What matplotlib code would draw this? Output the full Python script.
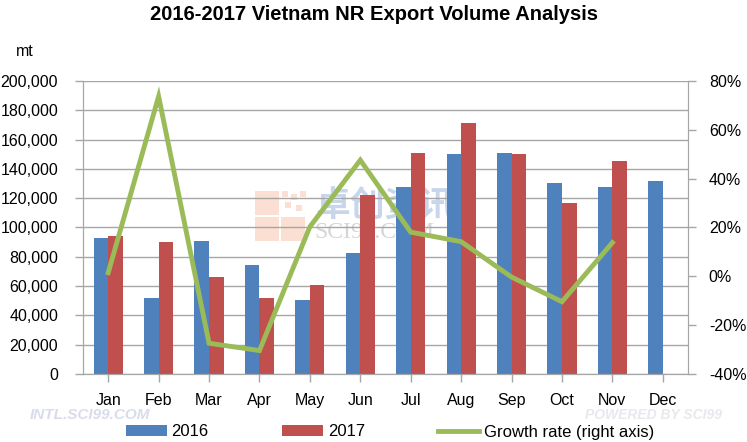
import matplotlib
matplotlib.use("Agg")
import matplotlib.pyplot as plt
from matplotlib.patches import Rectangle
from matplotlib.ticker import FuncFormatter, MultipleLocator
import numpy as np

months = ["Jan", "Feb", "Mar", "Apr", "May", "Jun", "Jul", "Aug", "Sep", "Oct", "Nov", "Dec"]
vol_2016 = [92800, 51900, 90800, 74400, 50500, 82800, 127600, 150200, 150900, 130400, 127600, 131700]
vol_2017 = [94200, 90100, 66200, 51900, 60800, 122200, 150900, 171300, 150200, 116700, 145400]
growth = [1.5, 73.7, -27.4, -30.4, 20.3, 47.6, 18.1, 14.2, -0.3, -10.4, 13.8]

plt.rcParams['font.family'] = ['Liberation Sans', 'Noto Sans CJK SC', 'DejaVu Sans']

fig = plt.figure(figsize=(7.47, 4.42), dpi=100)
ax = fig.add_axes([83/747, 1-374/442, (688-83)/747, (374-81)/442])
ax.patch.set_visible(False)
ax2 = ax.twinx()

x = np.arange(len(months))
w = 0.29
blue = '#4F81BD'
red = '#C0504D'
green = '#9BBB59'
grid = '#A6A6A6'

ax.bar(x - w/2, vol_2016, w, color=blue, label='2016', zorder=2)
ax.bar(np.arange(len(vol_2017)) + w/2, vol_2017, w, color=red, label='2017', zorder=2)
ax2.plot(np.arange(len(growth)), growth, color=green, lw=3.5, label='Growth rate (right axis)', zorder=3, solid_joinstyle='miter')

ax.set_xlim(-0.5, 11.5)
ax.set_ylim(0, 200000)
ax.yaxis.set_major_locator(MultipleLocator(20000))
ax.yaxis.set_major_formatter(FuncFormatter(lambda v, p: f"{int(v):,}"))
ax2.set_ylim(-40, 80)
ax2.yaxis.set_major_locator(MultipleLocator(20))
ax2.yaxis.set_major_formatter(FuncFormatter(lambda v, p: f"{int(v)}%"))

ax.set_xticks(x)
ax.set_xticklabels(months)
ax.grid(axis='y', color=grid, lw=1, zorder=0)
ax.set_axisbelow(True)

for a in (ax, ax2):
    for s in ['top']:
        a.spines[s].set_visible(False)
    for s in ['left', 'right', 'bottom']:
        a.spines[s].set_color(grid)
    a.tick_params(colors=grid, labelcolor='black', labelsize=11.5, length=6, width=1)
ax.tick_params(axis='x', pad=8)
ax.tick_params(axis='y', pad=12)
ax2.tick_params(axis='y', pad=9)

fig.text(0.5, 1-14/442, "2016-2017 Vietnam NR Export Volume Analysis", ha='center', va='center',
         fontsize=14.5, fontweight='bold')
fig.text(25/747, 1-52/442, "mt", ha='center', va='center', fontsize=11.5)

# watermarks (behind the axes content)
fig.text(30/747, 1-415/442, "INTL.SCI99.COM", ha='left', va='center', fontsize=11,
         fontweight='bold', style='italic', color='#D9DCEA', zorder=-1)
fig.text(722/747, 1-415/442, "POWERED BY SCI99", ha='right', va='center', fontsize=10,
         fontweight='bold', style='italic', color='#E8E8EE', zorder=-1)
for (lx, ly, lw_, lh) in [(255, 191, 24, 24), (255, 217, 24, 24), (281, 217, 24, 24)]:
    fig.patches.append(Rectangle((lx/747, 1-(ly+lh)/442), lw_/747, lh/442, transform=fig.transFigure,
                                 facecolor='#FBDFD2', edgecolor='none', zorder=-1))
for (lx, ly) in [(282, 191), (291, 194), (300, 191), (285, 202), (296, 205)]:
    fig.patches.append(Rectangle((lx/747, 1-(ly+6)/442), 6/747, 6/442, transform=fig.transFigure,
                                 facecolor='#FBDFD2', edgecolor='none', zorder=-1))
fig.text(315/747, 1-206/442, "卓创资讯", ha='left', va='center', fontsize=25, fontweight='bold',
         family=['Noto Sans CJK SC'], color='#C8D6EC', zorder=-1)
fig.text(314/747, 1-233/442, "SCI99.COM", ha='left', va='center', fontsize=17,
         family=['Liberation Serif', 'DejaVu Serif'], color='#D6D6D6', zorder=-1)

h1, l1 = ax.get_legend_handles_labels()
h2, l2 = ax2.get_legend_handles_labels()
fig.legend(h1 + h2, l1 + l2, loc='center', bbox_to_anchor=(390/747, 1-432/442), ncol=3,
           frameon=False, fontsize=12, handlelength=2.45, handleheight=0.6, columnspacing=4.4,
           handletextpad=0.3)

fig.savefig("out.png", dpi=100)
